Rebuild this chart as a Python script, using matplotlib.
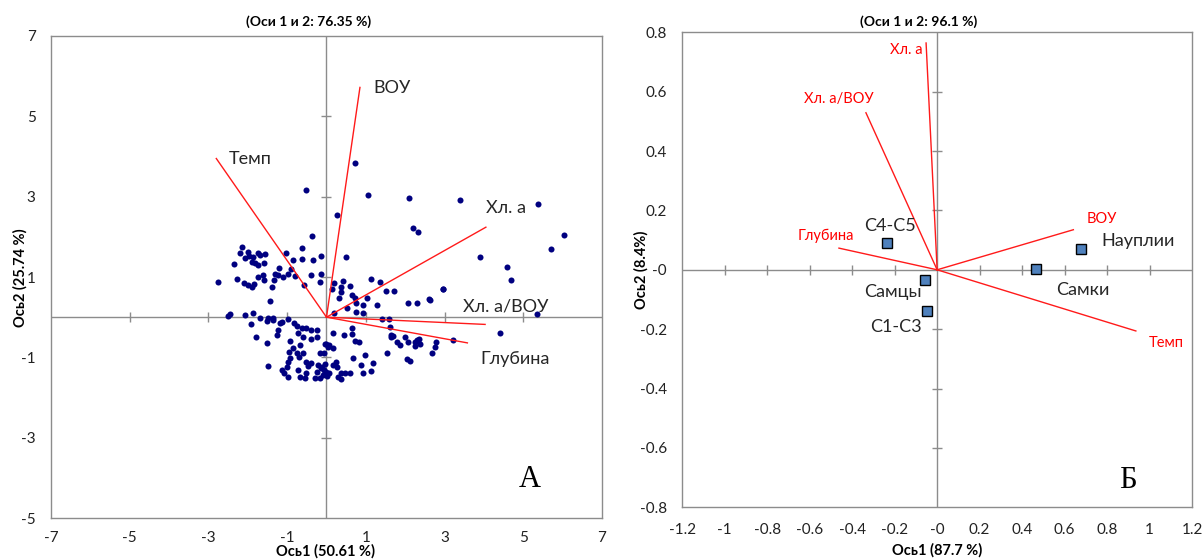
import numpy as np
import matplotlib
matplotlib.use("Agg")
import matplotlib.pyplot as plt

plt.rcParams['font.family'] = ['Lato', 'DejaVu Sans']

# --- panel A: observation scores (Ось1, Ось2) ---
obsX = [-0.52, 1.05, 2.09, 3.38, 5.38, 0.72, 0.26, 2.19, 2.32, 6.03, 5.71, 0.50, 3.90, 4.59,
        4.70, 2.97, 2.62, 2.31, 2.07, 5.34, 4.40, 3.22,
        -0.36, -0.61, -0.61, -0.34, -0.15, -0.85, -1.03,
        -2.14, -2.20, -2.00, -1.97, -2.07, -1.86, -1.75, -1.56, -1.69, -1.90, -1.82, -1.73, -1.58,
        -2.36, -2.76, -2.28, -2.09, -1.99, -1.90, -1.84, -1.73, -1.61, -1.58, -1.39, -1.33, -1.31,
        -1.21, -1.23, -1.10, -0.97, -0.90, -0.80, -0.40, -0.15, -0.17, -0.57, -1.43,
        -2.45, -2.50, -2.07, -1.86, -1.69, -1.48, -1.36, -0.99,
        -1.52, -1.35, -1.93, -1.18, -1.13, -0.82, -0.76, -0.63, -0.51, -0.40, -0.25, -1.23, -1.27,
        -0.72, -0.59, -0.40, -0.25, -1.80, -1.50, -0.93, -0.67, -0.84, -0.95, -0.76, -0.59, -0.93,
        -0.70, -0.97, -0.51, -0.40, -0.21, -0.17, -0.06, -0.02, -1.48, -1.14, -1.07, -1.01, -0.97,
        -0.72, -0.67, -0.51, -0.47, -0.55, -0.29, -0.25, -0.13, -0.08, 0.00, -0.17,
        0.19, 0.41, 0.15, 0.36, 0.38, 0.59, 0.66, 0.72, 0.75, 0.93, 1.04, 1.13, 1.36, 1.51, 1.71,
        1.29, 0.32, 0.53, 0.76, 0.93, 0.19, 2.61, 2.96,
        1.42, 1.59, 1.61, 1.65, 1.63, 1.69, 1.79, 1.86, 1.99, 2.07, 2.24, 2.29, 2.35, 2.24, 2.37,
        2.79, 2.75, 2.69, 2.05, 2.12, 1.53, 1.19, 0.98, 0.68, 0.87, 0.93, 1.12,
        0.17, 0.44, 0.64, 0.64, 0.72, 0.83, 0.07, 0.04, 0.17, -0.04,
        0.24, 0.17, 0.26, 0.36, 0.47, 0.59, 0.30, 0.36, 0.02, -0.07, -0.12, -0.04, 0.07]
obsY = [3.17, 3.04, 2.96, 2.91, 2.83, 3.85, 2.54, 2.22, 2.13, 2.05, 1.70, 1.51, 1.51, 1.25,
        0.93, 0.71, 0.44, 0.36, 0.35, 0.09, -0.40, -0.56,
        2.02, 1.73, 1.45, 1.42, 1.52, 1.42, 1.59,
        1.74, 1.59, 1.63, 1.52, 1.47, 1.51, 1.61, 1.57, 1.55, 1.38, 1.34, 1.30, 1.34,
        1.32, 0.87, 0.95, 0.84, 0.80, 0.76, 0.82, 1.01, 1.05, 0.93, 0.76, 0.93, 1.08,
        1.22, 1.05, 1.01, 1.08, 1.19, 1.02, 1.04, 1.07, 0.88, 0.79, 0.41,
        0.08, 0.03, 0.05, 0.10, -0.03, -0.03, -0.03, -0.05,
        -0.09, -0.07, -0.18, -0.15, -0.11, -0.15, -0.22, -0.28, -0.28, -0.32, -0.32, -0.32, -0.44,
        -0.39, -0.49, -0.55, -0.49, -0.49, -0.65, -0.59, -0.69, -0.77, -0.86, -0.88, -0.90, -1.02,
        -1.00, -1.11, -1.11, -1.15, -1.19, -0.88, -0.88, -0.68, -1.21, -1.31, -1.38, -1.25, -1.48,
        -1.31, -1.48, -1.38, -1.21, -1.51, -1.51, -1.36, -1.27, -1.44, -1.36, -1.52,
        0.86, 0.91, 0.70, 0.76, 0.62, 0.78, 0.55, 0.47, 0.35, 0.30, 0.47, 0.95, 0.87, 0.65, 0.65,
        0.30, 0.47, 0.24, 0.14, 0.11, 0.11, 0.45, 0.70,
        -0.05, -0.05, -0.24, -0.44, -0.50, -0.47, -0.61, -0.69, -0.50, -0.63, -0.61, -0.57, -0.55, -0.72, -0.67,
        -0.63, -0.75, -0.90, -1.05, -1.09, -0.90, -1.15, -0.94, -1.01, -1.19, -1.38, -1.34,
        -0.39, -0.44, -0.26, -0.42, -0.59, -0.63, -0.69, -0.75, -0.77, -0.67,
        -1.11, -1.19, -1.23, -1.38, -1.40, -1.38, -1.48, -1.55, -1.46, -1.31, -1.23, -1.16, -1.38]

varNamesA = ['ВОУ', 'Темп', 'Хл. а', 'Хл. а/ВОУ', 'Глубина']
varXA = [0.85, -2.80, 4.05, 4.03, 3.58]
varYA = [5.72, 3.95, 2.24, -0.18, -0.64]

# --- panel B: stages and variables ---
stageNames = ['С4-С5', 'Науплии', 'Самки', 'Самцы', 'С1-С3']
stageX = [-0.237, 0.675, 0.467, -0.057, -0.048]
stageY = [0.090, 0.070, 0.003, -0.035, -0.139]

varNamesB = ['Хл. а', 'Хл. а/ВОУ', 'Глубина', 'ВОУ', 'Темп']
varXB = [-0.052, -0.335, -0.462, 0.641, 0.935]
varYB = [0.764, 0.529, 0.073, 0.135, -0.206]

axisGray = '#8c8c8c'
lineRed = '#ff1a1a'


def styleAxes(ax, xticks, yticks, xlim, ylim, padX, padY):
    ax.set_xlim(xlim)
    ax.set_ylim(ylim)
    ax.set_xticks(xticks)
    ax.set_yticks(yticks)
    ax.set_xticklabels(['%g' % round(t, 2) for t in xticks])
    ax.set_yticklabels(['%g' % round(t, 2) for t in yticks])
    ax.tick_params(length=0, labelsize=11, colors='#222222')
    ax.tick_params(axis='x', pad=padX)
    ax.tick_params(axis='y', pad=padY)
    for s in ax.spines.values():
        s.set_color(axisGray)
        s.set_linewidth(1)
    ax.axhline(0, color=axisGray, lw=1, zorder=1)
    ax.axvline(0, color=axisGray, lw=1, zorder=1)
    # crossing tick marks on the zero axes
    innerX = [t for t in xticks[1:-1] if abs(t) > 1e-9]
    innerY = [t for t in yticks[1:-1] if abs(t) > 1e-9]
    ax.plot(innerX, [0] * len(innerX), ls='none', marker='|', ms=7, mew=1, color=axisGray, zorder=1)
    ax.plot([0] * len(innerY), innerY, ls='none', marker='_', ms=7, mew=1, color=axisGray, zorder=1)


fig = plt.figure(figsize=(12.03, 5.59), dpi=100)

axA = fig.add_axes([0.0424, 0.0733, 0.458, 0.8623])
styleAxes(axA, list(range(-7, 8, 2)), list(range(-5, 8, 2)), (-7, 7), (-5, 7), 9, 11)
axA.scatter(obsX, obsY, s=19, color='#000080', linewidths=0, zorder=3)
for vx, vy in zip(varXA, varYA):
    axA.plot([0, vx], [0, vy], color=lineRed, lw=1.0, zorder=4)

labelPosA = [(1.18, 5.70), (-2.48, 3.93), (4.06, 2.71), (3.47, 0.26), (3.92, -1.03)]
for name, (lx, ly) in zip(varNamesA, labelPosA):
    axA.text(lx, ly, name, fontsize=13, color='#262626', ha='left', va='center')
axA.text(5.16, -4.05, 'А', fontsize=22, family='Liberation Serif', ha='center', va='center')

ticksB = list(np.round(np.arange(-1.2, 1.21, 0.2), 2))
ticksBy = list(np.round(np.arange(-0.8, 0.81, 0.2), 2))
axB = fig.add_axes([0.567, 0.0925, 0.424, 0.8497])
styleAxes(axB, ticksB, ticksBy, (-1.2, 1.2), (-0.8, 0.8), 11, 11)
for vx, vy in zip(varXB, varYB):
    axB.plot([0, vx], [0, vy], color=lineRed, lw=1.0, zorder=3)
axB.plot(stageX, stageY, ls='none', marker='s', ms=7, mfc='#4f81bd', mec='black', mew=1, zorder=4)

labelPosB = [(-0.066, 0.742, 'right'), (-0.462, 0.574, 'center'), (-0.523, 0.116, 'center'),
             (0.773, 0.172, 'center'), (1.076, -0.246, 'center')]
for name, (lx, ly, ha) in zip(varNamesB, labelPosB):
    axB.text(lx, ly, name, fontsize=10.5, color='red', ha=ha, va='center')

stageLabelPos = [(-0.224, 0.147, 'center'), (0.772, 0.097, 'left'), (0.687, -0.067, 'center'),
                 (-0.206, -0.075, 'center'), (-0.193, -0.193, 'center')]
for name, (lx, ly, ha) in zip(stageNames, stageLabelPos):
    axB.text(lx, ly, name, fontsize=13, color='#262626', ha=ha, va='center')
axB.text(0.899, -0.709, 'Б', fontsize=22, family='Liberation Serif', ha='center', va='center')

# titles and axis captions
fig.text(309 / 1203, 0.962, '(Оси 1 и 2: 76.35 %)', fontsize=10, fontweight='bold', ha='center', va='center')
fig.text(919 / 1203, 0.962, '(Оси 1 и 2: 96.1 %)', fontsize=10, fontweight='bold', ha='center', va='center')
fig.text(326 / 1203, 0.013, 'Ось1 (50.61 %)', fontsize=10.5, fontweight='bold', ha='center', va='center')
fig.text(937 / 1203, 0.016, 'Ось1 (87.7 %)', fontsize=10.5, fontweight='bold', ha='center', va='center')
fig.text(20 / 1203, 1 - 278 / 559, 'Ось2 (25.74 %)', fontsize=10.5, fontweight='bold', rotation=90,
         ha='center', va='center')
fig.text(641 / 1203, 1 - 270 / 559, 'Ось2 (8.4%)', fontsize=10.5, fontweight='bold', rotation=90,
         ha='center', va='center')

fig.savefig('out.png', dpi=100)
